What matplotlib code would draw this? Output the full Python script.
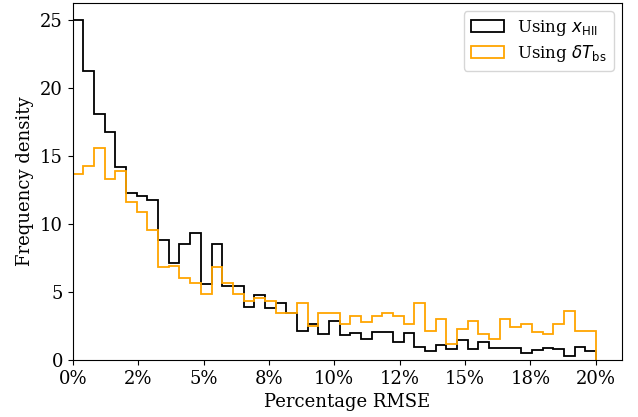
import numpy as np
import matplotlib
matplotlib.use('Agg')
import matplotlib.pyplot as plt
from matplotlib.ticker import MultipleLocator, StrMethodFormatter

# 49 equal bins between 0% and 20%
edges = np.linspace(0, 20, 50)

density_xhii = [
    25.0, 21.23, 18.05, 16.73, 14.18, 12.27, 12.03, 11.79, 8.85, 7.09,
    8.51, 9.34, 5.58, 8.51, 5.45, 5.40, 3.91, 4.77, 3.82, 4.16,
    3.42, 2.15, 2.64, 1.93, 2.89, 1.81, 1.95, 1.57, 2.05, 2.05,
    1.32, 1.95, 0.98, 0.64, 1.13, 0.83, 1.47, 0.78, 1.34, 0.88,
    0.88, 0.88, 0.54, 0.69, 0.88, 0.78, 0.26, 0.98, 0.67,
]
density_dtb = [
    13.70, 14.28, 15.58, 13.30, 13.89, 11.64, 10.89, 9.55, 6.80, 6.93,
    6.04, 5.67, 4.88, 6.80, 5.67, 4.88, 4.35, 4.55, 4.35, 3.42,
    3.42, 4.16, 2.49, 3.42, 3.42, 2.64, 3.23, 2.82, 3.23, 3.42,
    3.23, 2.64, 4.16, 2.10, 3.03, 1.15, 2.28, 2.86, 1.93, 1.54,
    3.03, 2.45, 2.64, 2.08, 1.93, 2.64, 3.59, 2.13, 2.13,
]
labels = [r'Using $x_{\rm HII}$', r'Using $\delta T_{\rm bs}$']

plt.rcParams['font.family'] = 'DejaVu Serif'
plt.rcParams['mathtext.fontset'] = 'dejavusans'

fig = plt.figure(figsize=(6.38, 4.17), dpi=100)
ax = fig.add_axes([0.114, 0.137, 0.861, 0.856])

centers = 0.5 * (edges[:-1] + edges[1:])
ax.hist(centers, bins=edges, weights=density_xhii, histtype='step',
        color='k', linewidth=1.3, label=labels[0])
ax.hist(centers, bins=edges, weights=density_dtb, histtype='step',
        color='orange', linewidth=1.3, label=labels[1])

ax.set_xlim(0, 21)
ax.xaxis.set_major_locator(MultipleLocator(2.5))
ax.xaxis.set_major_formatter(StrMethodFormatter('{x:.0f}%'))
ax.tick_params(labelsize=13)
ax.set_xlabel('Percentage RMSE', fontsize=13)
ax.set_ylabel('Frequency density', fontsize=13)
ax.legend(loc='upper right', fontsize=12, labelspacing=0.3)

fig.savefig('out.png', dpi=100)
